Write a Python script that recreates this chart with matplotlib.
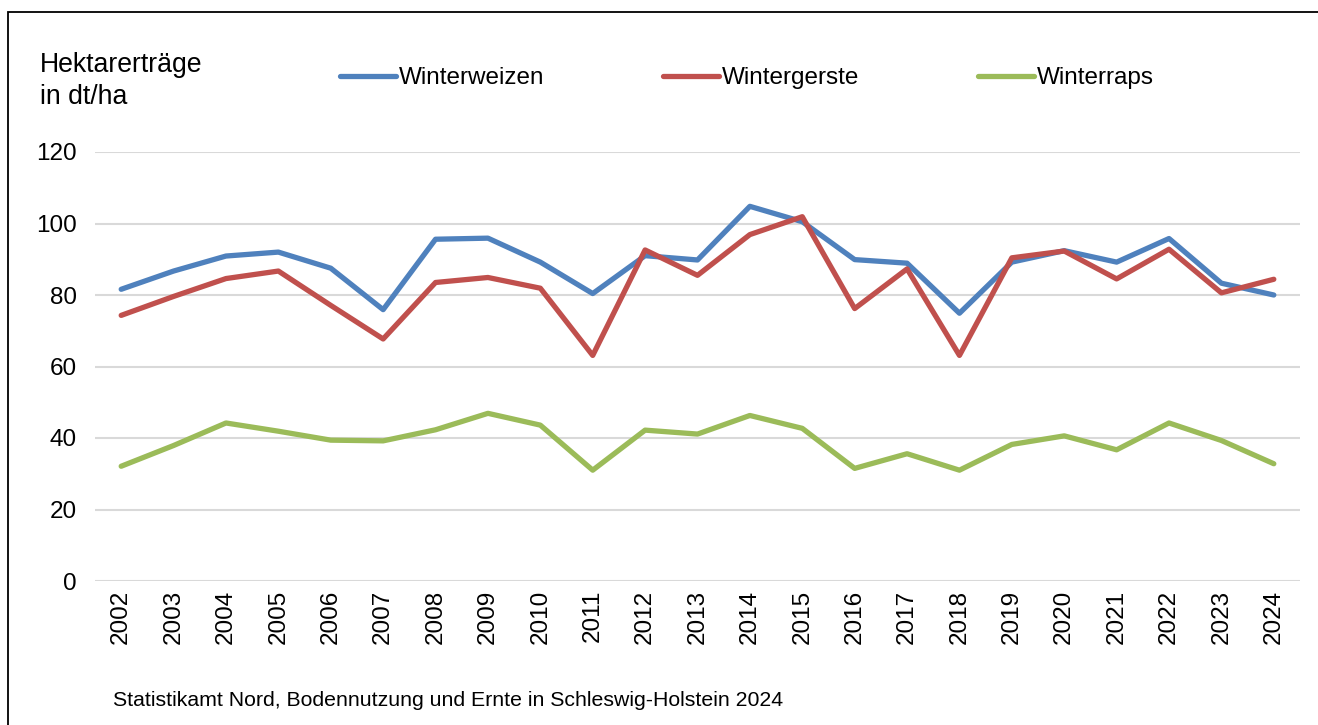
import matplotlib.pyplot as plt
from matplotlib.patches import Rectangle

plt.rcParams['font.family'] = ['Liberation Sans', 'DejaVu Sans']

years = [str(y) for y in range(2002, 2025)]

# Hektarerträge in dt/ha
winterweizen = [81.6, 86.7, 90.9, 92.0, 87.5, 75.9, 95.6, 95.9, 89.2, 80.4, 91.0, 89.8,
                104.8, 100.5, 89.9, 88.9, 74.9, 89.2, 92.4, 89.2, 95.8, 83.3, 80.0]
wintergerste = [74.3, 79.6, 84.6, 86.7, 77.1, 67.7, 83.5, 84.9, 81.9, 63.1, 92.6, 85.5,
                96.9, 101.9, 76.2, 87.3, 63.1, 90.4, 92.3, 84.5, 92.8, 80.6, 84.4]
winterraps = [32.1, 37.9, 44.2, 41.9, 39.4, 39.2, 42.3, 46.9, 43.6, 31.0, 42.2, 41.1,
              46.3, 42.7, 31.5, 35.6, 31.0, 38.2, 40.6, 36.7, 44.2, 39.3, 32.8]

series = [
    ('Winterweizen', winterweizen, '#4f81bd'),
    ('Wintergerste', wintergerste, '#c0504d'),
    ('Winterraps', winterraps, '#9bbb59'),
]

fig = plt.figure(figsize=(13.18, 7.25), dpi=100)
ax = fig.add_axes([95 / 1318, 1 - 581 / 725, 1205 / 1318, 429 / 725])

x = range(len(years))
for name, vals, col in series:
    ax.plot(x, vals, color=col, linewidth=3.8, label=name, solid_capstyle='round')

ax.set_ylim(0, 120)
ax.set_xlim(-0.5, len(years) - 0.5)
ax.set_yticks(range(0, 121, 20))
ax.set_xticks(list(x))
ax.set_xticklabels(years, rotation=90)
ax.tick_params(axis='both', length=0, labelsize=17.5)
ax.tick_params(axis='x', pad=6.5)
ax.tick_params(axis='y', pad=13)
ax.grid(axis='y', color='#d9d9d9', linewidth=1.5)
ax.set_axisbelow(True)
for s in ax.spines.values():
    s.set_visible(False)

# Y-axis caption
fig.text(40 / 1318, 1 - 65 / 725, 'Hektarerträge', fontsize=19.2, va='center', ha='left')
fig.text(40 / 1318, 1 - 97 / 725, 'in dt/ha', fontsize=19.2, va='center', ha='left')

# legend in a row
leg = fig.legend(loc='center left', bbox_to_anchor=(330 / 1318, 1 - 78 / 725), ncol=3,
                 frameon=False, fontsize=17.5, handlelength=2.3, handletextpad=0.12,
                 columnspacing=4.9, borderaxespad=0)

fig.text(113 / 1318, 1 - 700 / 725, 'Statistikamt Nord, Bodennutzung und Ernte in Schleswig-Holstein 2024',
         fontsize=15.3, va='center', ha='left')

# outer frame
fig.patches.append(Rectangle((8 / 1318, -0.1), 1.2, 1 - 12 / 725 + 0.1, transform=fig.transFigure,
                             fill=False, edgecolor='black', linewidth=1.3))

fig.savefig('out.png', dpi=100)
